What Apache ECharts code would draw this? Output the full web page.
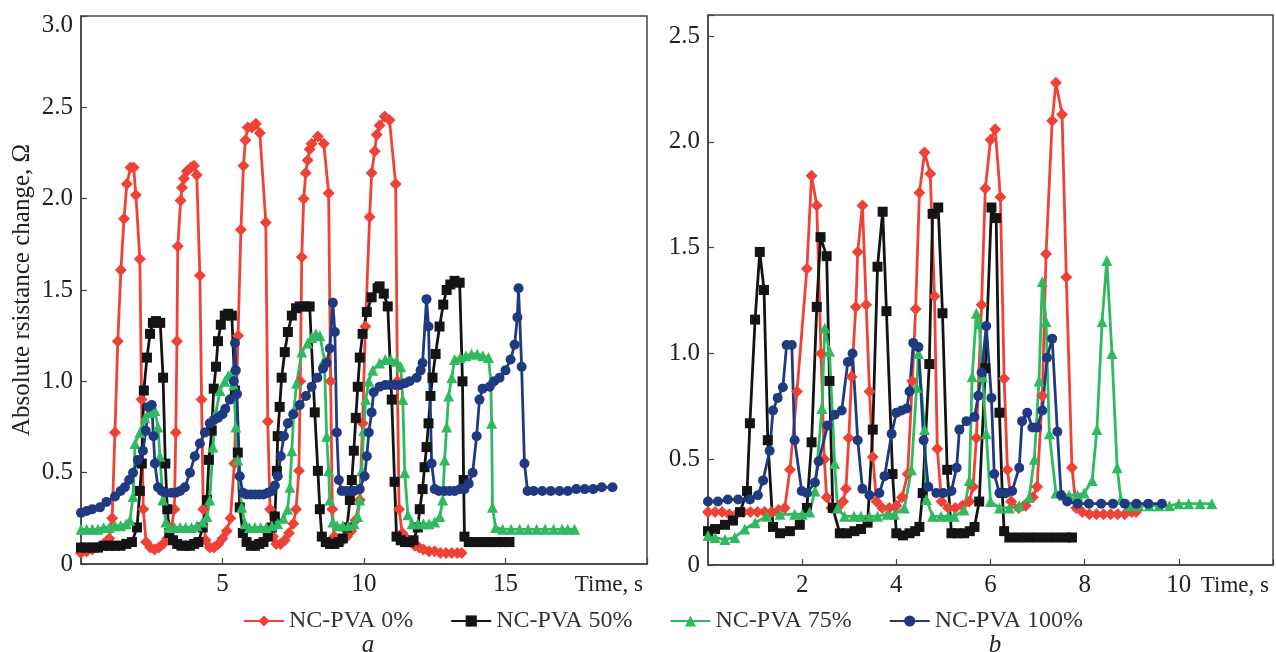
<!DOCTYPE html>
<html>
<head>
<meta charset="utf-8">
<script src="https://cdn.jsdelivr.net/npm/echarts@6/dist/echarts.min.js"></script>
<style>
  html, body { margin: 0; padding: 0; background: #fff; }
  #main { width: 1276px; height: 652px; }
</style>
</head>
<body>
<div id="main"></div>
<script>
var seriesNames = ['NC-PVA 0%', 'NC-PVA 50%', 'NC-PVA 75%', 'NC-PVA 100%'];
var yTicksA = [0, 0.5, 1.0, 1.5, 2.0, 2.5, 3.0];
var yTicksB = [0, 0.5, 1.0, 1.5, 2.0, 2.5];
var xTicksA = [5, 10, 15];
var xTicksB = [2, 4, 6, 8, 10];

// panel a : [time s, resistance change]
var a0 = [[0,0.06],[0.2,0.07],[0.4,0.08],[0.6,0.09],[0.8,0.11],[1.0,0.14],[1.1,0.25],[1.2,0.72],[1.3,1.22],[1.41,1.61],[1.52,1.89],[1.62,2.08],[1.75,2.17],[1.86,2.17],[1.94,2.02],[2.08,1.67],[2.14,0.9],[2.2,0.3],[2.3,0.12],[2.45,0.09],[2.6,0.08],[2.75,0.09],[2.9,0.11],[3.05,0.14],[3.2,0.2],[3.3,0.3],[3.35,0.72],[3.39,1.22],[3.42,1.74],[3.52,1.99],[3.57,2.06],[3.64,2.11],[3.74,2.15],[3.88,2.17],[3.99,2.18],[4.09,2.13],[4.2,1.58],[4.26,0.9],[4.32,0.3],[4.4,0.13],[4.55,0.09],[4.7,0.09],[4.85,0.11],[5.0,0.14],[5.15,0.18],[5.28,0.25],[5.42,0.55],[5.55,1.25],[5.65,1.83],[5.74,2.18],[5.81,2.32],[5.89,2.39],[6.04,2.39],[6.18,2.41],[6.32,2.36],[6.53,1.87],[6.6,0.78],[6.68,0.3],[6.78,0.15],[6.9,0.11],[7.05,0.11],[7.2,0.13],[7.35,0.17],[7.5,0.22],[7.6,0.3],[7.7,0.51],[7.75,1.0],[7.8,1.68],[7.87,2.0],[7.94,2.14],[8.01,2.21],[8.08,2.27],[8.15,2.3],[8.37,2.34],[8.58,2.3],[8.75,2.03],[8.82,1.0],[8.88,0.3],[8.95,0.15],[9.1,0.13],[9.25,0.13],[9.4,0.15],[9.55,0.18],[9.7,0.24],[9.85,0.35],[9.95,0.77],[10.05,1.3],[10.2,1.9],[10.27,2.14],[10.38,2.26],[10.45,2.35],[10.55,2.4],[10.73,2.45],[10.9,2.43],[11.12,2.08],[11.18,1.0],[11.24,0.3],[11.35,0.17],[11.5,0.14],[11.65,0.12],[11.8,0.1],[11.95,0.09],[12.1,0.08],[12.3,0.07],[12.5,0.07],[12.7,0.06],[12.9,0.06],[13.1,0.06],[13.3,0.06],[13.45,0.06]];
var a50 = [[0,0.09],[0.2,0.09],[0.4,0.09],[0.6,0.09],[0.8,0.1],[1.0,0.1],[1.2,0.1],[1.4,0.1],[1.6,0.11],[1.8,0.12],[1.98,0.2],[2.08,0.4],[2.15,0.55],[2.22,0.95],[2.33,1.13],[2.44,1.26],[2.54,1.32],[2.65,1.33],[2.8,1.32],[2.9,1.02],[2.98,0.55],[3.05,0.3],[3.12,0.17],[3.25,0.13],[3.4,0.11],[3.55,0.1],[3.7,0.1],[3.85,0.1],[4.0,0.11],[4.15,0.12],[4.3,0.2],[4.45,0.35],[4.52,0.57],[4.62,0.73],[4.69,0.96],[4.77,1.08],[4.84,1.22],[4.94,1.31],[5.08,1.36],[5.2,1.37],[5.33,1.36],[5.44,0.95],[5.54,0.61],[5.61,0.31],[5.72,0.17],[5.85,0.12],[6.0,0.1],[6.15,0.1],[6.3,0.11],[6.45,0.12],[6.6,0.15],[6.75,0.2],[6.85,0.26],[6.92,0.51],[6.95,0.7],[7.02,0.86],[7.09,1.02],[7.2,1.16],[7.31,1.27],[7.45,1.36],[7.6,1.4],[7.73,1.41],[7.9,1.41],[8.08,1.41],[8.26,0.83],[8.37,0.51],[8.44,0.3],[8.51,0.15],[8.65,0.12],[8.8,0.11],[8.95,0.11],[9.1,0.12],[9.25,0.14],[9.4,0.2],[9.5,0.35],[9.57,0.46],[9.64,0.62],[9.71,0.8],[9.78,0.97],[9.85,1.13],[9.95,1.26],[10.1,1.38],[10.27,1.46],[10.48,1.51],[10.55,1.52],[10.7,1.48],[10.84,1.41],[10.98,0.9],[11.08,0.45],[11.15,0.15],[11.3,0.13],[11.45,0.12],[11.6,0.12],[11.75,0.13],[11.9,0.2],[11.97,0.3],[12.07,0.41],[12.14,0.53],[12.21,0.64],[12.28,0.77],[12.35,0.92],[12.42,1.02],[12.53,1.15],[12.67,1.3],[12.8,1.42],[12.92,1.5],[13.05,1.53],[13.2,1.55],[13.38,1.54],[13.48,1.0],[13.52,0.46],[13.55,0.15],[13.7,0.12],[13.9,0.12],[14.1,0.12],[14.3,0.12],[14.5,0.12],[14.7,0.12],[14.9,0.12],[15.14,0.12]];
var a75 = [[0,0.19],[0.2,0.19],[0.4,0.19],[0.6,0.19],[0.8,0.2],[1.0,0.2],[1.2,0.21],[1.4,0.21],[1.6,0.22],[1.73,0.24],[1.84,0.37],[1.91,0.66],[2.08,0.72],[2.26,0.8],[2.44,0.83],[2.61,0.84],[2.72,0.75],[2.79,0.59],[2.89,0.35],[3.0,0.23],[3.1,0.2],[3.3,0.2],[3.5,0.2],[3.7,0.2],[3.9,0.2],[4.1,0.21],[4.3,0.23],[4.45,0.26],[4.55,0.35],[4.66,0.64],[4.77,0.83],[4.91,0.95],[5.08,1.0],[5.2,1.03],[5.33,1.05],[5.4,0.98],[5.47,0.75],[5.54,0.57],[5.68,0.31],[5.8,0.22],[5.95,0.2],[6.15,0.2],[6.35,0.2],[6.55,0.2],[6.75,0.21],[6.95,0.22],[7.15,0.25],[7.3,0.3],[7.38,0.42],[7.45,0.62],[7.52,0.84],[7.62,0.99],[7.8,1.16],[8.01,1.21],[8.15,1.24],[8.3,1.26],[8.44,1.25],[8.6,1.12],[8.68,0.7],[8.75,0.51],[8.79,0.35],[8.9,0.23],[9.05,0.21],[9.25,0.21],[9.45,0.21],[9.65,0.22],[9.78,0.26],[9.85,0.35],[9.92,0.51],[9.99,0.73],[10.06,0.9],[10.17,1.0],[10.31,1.06],[10.55,1.1],[10.75,1.12],[10.95,1.12],[11.15,1.11],[11.3,1.08],[11.37,0.9],[11.44,0.5],[11.55,0.27],[11.7,0.22],[11.9,0.22],[12.1,0.22],[12.3,0.22],[12.5,0.23],[12.68,0.26],[12.78,0.35],[12.85,0.57],[12.92,0.75],[12.99,0.92],[13.1,1.02],[13.2,1.12],[13.4,1.13],[13.6,1.14],[13.8,1.15],[14.0,1.15],[14.2,1.14],[14.4,1.13],[14.48,1.0],[14.51,0.77],[14.54,0.31],[14.65,0.2],[14.9,0.19],[15.2,0.19],[15.5,0.19],[15.8,0.19],[16.1,0.19],[16.4,0.19],[16.7,0.19],[17.0,0.19],[17.2,0.19],[17.44,0.19]];
var a100 = [[0,0.28],[0.2,0.29],[0.4,0.3],[0.67,0.31],[0.9,0.34],[1.2,0.37],[1.4,0.4],[1.55,0.42],[1.7,0.46],[1.84,0.5],[2.01,0.57],[2.19,0.62],[2.29,0.73],[2.38,0.86],[2.5,0.87],[2.56,0.7],[2.61,0.55],[2.72,0.42],[2.85,0.4],[3.0,0.39],[3.2,0.39],[3.35,0.39],[3.5,0.4],[3.67,0.42],[3.85,0.5],[4.02,0.59],[4.2,0.66],[4.38,0.72],[4.55,0.77],[4.7,0.79],[4.84,0.8],[5.0,0.82],[5.1,0.85],[5.26,0.9],[5.4,1.0],[5.44,1.21],[5.47,1.06],[5.51,0.93],[5.61,0.48],[5.72,0.39],[5.85,0.38],[6.0,0.38],[6.15,0.38],[6.3,0.38],[6.45,0.38],[6.6,0.39],[6.75,0.4],[6.85,0.43],[6.95,0.48],[7.06,0.59],[7.17,0.7],[7.31,0.77],[7.5,0.82],[7.73,0.87],[7.95,0.92],[8.15,0.97],[8.35,1.02],[8.55,1.07],[8.68,1.1],[8.79,1.18],[8.9,1.43],[8.97,1.27],[9.04,0.72],[9.11,0.46],[9.21,0.4],[9.35,0.4],[9.5,0.4],[9.65,0.4],[9.85,0.41],[10.02,0.48],[10.1,0.59],[10.17,0.72],[10.27,0.83],[10.34,0.94],[10.55,0.97],[10.75,0.98],[10.91,0.98],[11.1,0.98],[11.26,0.98],[11.45,0.99],[11.61,1.0],[11.86,1.02],[12.0,1.06],[12.07,1.1],[12.21,1.45],[12.28,1.3],[12.39,0.55],[12.5,0.41],[12.65,0.4],[12.85,0.4],[13.02,0.4],[13.2,0.4],[13.4,0.41],[13.55,0.41],[13.7,0.44],[13.84,0.5],[13.98,0.7],[14.08,0.9],[14.19,0.96],[14.44,0.97],[14.6,1.0],[14.79,1.02],[15.0,1.06],[15.18,1.12],[15.32,1.2],[15.42,1.35],[15.46,1.51],[15.57,1.08],[15.67,0.55],[15.78,0.4],[16.0,0.4],[16.3,0.4],[16.6,0.4],[16.91,0.4],[17.2,0.4],[17.5,0.41],[17.8,0.41],[18.1,0.41],[18.4,0.42],[18.78,0.42]];

// panel b
var b0 = [[0,0.25],[0.15,0.25],[0.3,0.25],[0.45,0.24],[0.6,0.24],[0.75,0.25],[0.9,0.25],[1.05,0.25],[1.2,0.25],[1.35,0.25],[1.5,0.26],[1.63,0.27],[1.74,0.45],[1.89,0.82],[2.1,1.4],[2.2,1.84],[2.31,1.7],[2.4,1.0],[2.47,0.5],[2.52,0.32],[2.62,0.27],[2.75,0.27],[2.87,0.3],[2.93,0.36],[2.99,0.6],[3.05,0.89],[3.14,1.22],[3.18,1.48],[3.28,1.7],[3.36,1.23],[3.43,0.82],[3.5,0.51],[3.58,0.3],[3.7,0.27],[3.85,0.27],[4.0,0.28],[4.12,0.32],[4.24,0.43],[4.34,0.87],[4.41,1.21],[4.49,1.76],[4.6,1.95],[4.72,1.85],[4.81,1.27],[4.87,0.55],[4.96,0.3],[5.1,0.27],[5.25,0.27],[5.4,0.28],[5.55,0.3],[5.63,0.37],[5.7,0.6],[5.81,1.23],[5.89,1.78],[6.0,2.01],[6.1,2.06],[6.21,1.74],[6.29,0.88],[6.36,0.45],[6.44,0.3],[6.6,0.27],[6.75,0.28],[6.9,0.32],[6.99,0.37],[7.1,0.8],[7.18,1.47],[7.31,2.1],[7.39,2.28],[7.52,2.13],[7.61,1.36],[7.73,0.46],[7.82,0.27],[7.95,0.25],[8.1,0.24],[8.25,0.24],[8.4,0.24],[8.55,0.24],[8.7,0.24],[8.85,0.24],[9.0,0.25],[9.09,0.25]];
var b50 = [[0,0.16],[0.15,0.17],[0.36,0.19],[0.53,0.21],[0.68,0.25],[0.83,0.35],[0.89,0.67],[1.0,1.16],[1.1,1.48],[1.19,1.3],[1.27,0.59],[1.38,0.18],[1.53,0.15],[1.74,0.16],[1.95,0.19],[2.1,0.27],[2.2,0.58],[2.31,1.22],[2.39,1.55],[2.52,1.46],[2.58,0.87],[2.65,0.27],[2.8,0.15],[2.95,0.15],[3.11,0.16],[3.25,0.17],[3.39,0.2],[3.5,0.64],[3.6,1.41],[3.71,1.67],[3.79,1.2],[3.92,0.43],[4.0,0.15],[4.14,0.14],[4.28,0.15],[4.4,0.16],[4.49,0.18],[4.56,0.34],[4.7,0.95],[4.77,1.66],[4.89,1.69],[4.98,1.19],[5.08,0.45],[5.17,0.15],[5.3,0.15],[5.44,0.15],[5.56,0.16],[5.66,0.18],[5.76,0.3],[5.89,0.93],[6.02,1.69],[6.12,1.64],[6.19,0.72],[6.25,0.34],[6.29,0.16],[6.4,0.13],[6.6,0.13],[6.8,0.13],[7.0,0.13],[7.2,0.13],[7.4,0.13],[7.6,0.13],[7.73,0.13]];
var b75 = [[0,0.14],[0.15,0.13],[0.36,0.12],[0.57,0.13],[0.78,0.17],[1.0,0.2],[1.25,0.23],[1.53,0.24],[1.84,0.24],[2.0,0.24],[2.16,0.25],[2.27,0.35],[2.42,0.74],[2.48,1.12],[2.58,1.01],[2.69,0.48],[2.75,0.27],[2.9,0.23],[3.1,0.23],[3.25,0.23],[3.43,0.23],[3.6,0.23],[3.8,0.24],[3.96,0.24],[4.17,0.27],[4.32,0.45],[4.43,0.84],[4.47,1.0],[4.6,0.64],[4.64,0.31],[4.77,0.23],[4.95,0.23],[5.1,0.23],[5.23,0.23],[5.44,0.26],[5.55,0.4],[5.61,0.89],[5.7,1.19],[5.76,1.14],[5.83,0.89],[5.91,0.62],[6.0,0.3],[6.19,0.27],[6.4,0.27],[6.61,0.28],[6.82,0.32],[6.93,0.5],[7.03,0.87],[7.1,1.34],[7.18,1.15],[7.25,0.62],[7.39,0.34],[7.55,0.33],[7.67,0.33],[7.85,0.33],[7.99,0.34],[8.16,0.4],[8.26,0.64],[8.37,1.15],[8.47,1.44],[8.58,1.0],[8.69,0.46],[8.77,0.31],[8.94,0.28],[9.15,0.28],[9.37,0.28],[9.58,0.28],[9.8,0.28],[10.0,0.29],[10.21,0.29],[10.45,0.29],[10.7,0.29]];
var b100 = [[0,0.3],[0.21,0.3],[0.42,0.31],[0.64,0.31],[0.89,0.31],[1.06,0.33],[1.17,0.4],[1.31,0.54],[1.38,0.73],[1.48,0.79],[1.59,0.84],[1.67,1.04],[1.78,1.04],[1.84,0.59],[1.99,0.35],[2.1,0.34],[2.27,0.39],[2.35,0.49],[2.54,0.66],[2.69,0.71],[2.84,0.73],[2.97,0.96],[3.07,1.0],[3.18,0.59],[3.28,0.36],[3.43,0.33],[3.64,0.34],[3.75,0.42],[3.9,0.62],[4.0,0.72],[4.11,0.73],[4.22,0.74],[4.28,0.82],[4.36,1.05],[4.47,1.03],[4.58,0.59],[4.68,0.37],[4.85,0.34],[5.0,0.34],[5.17,0.35],[5.28,0.46],[5.34,0.64],[5.49,0.68],[5.66,0.7],[5.74,0.8],[5.81,0.91],[5.91,1.13],[6.02,0.79],[6.08,0.43],[6.19,0.34],[6.32,0.34],[6.46,0.35],[6.61,0.46],[6.67,0.68],[6.78,0.72],[6.89,0.65],[6.99,0.65],[7.1,0.73],[7.2,0.98],[7.31,1.07],[7.42,0.63],[7.5,0.33],[7.63,0.3],[7.85,0.29],[8.09,0.29],[8.35,0.29],[8.6,0.29],[8.85,0.29],[9.1,0.29],[9.35,0.29],[9.64,0.29]];

var colors = ['#ef4237', '#141414', '#2fba5f', '#1f3a80'];
var symbols = ['diamond', 'rect', 'triangle', 'circle'];
var symbolSizes = [12, 10, 11, 10];
var serif = 'Liberation Serif';

var myChart = echarts.init(document.getElementById('main'));

function makeSeries(i, data, axisIndex) {
    return {
        name: seriesNames[i],
        type: 'line',
        xAxisIndex: axisIndex,
        yAxisIndex: axisIndex,
        data: data,
        symbol: symbols[i],
        symbolSize: symbolSizes[i],
        showAllSymbol: true,
        lineStyle: { color: colors[i], width: 2.8 },
        itemStyle: { color: colors[i] },
        emphasis: { disabled: true },
        animation: false
    };
}

function xAxisOf(idx, max, ticks) {
    return {
        gridIndex: idx,
        type: 'value',
        min: 0,
        max: max,
        interval: ticks[1] - ticks[0],
        name: 'Time, s',
        nameLocation: 'end',
        nameGap: -4,
        nameTextStyle: { fontFamily: serif, fontSize: 23, color: '#222', align: 'right', verticalAlign: 'top', padding: [9, 0, 0, 0] },
        axisLine: { show: true, lineStyle: { color: '#444', width: 1.5 } },
        axisTick: { inside: true, length: 6, lineStyle: { color: '#444', width: 1.2 } },
        axisLabel: {
            margin: 8,
            fontFamily: serif, fontSize: 25, color: '#222',
            formatter: function (v) { return ticks.indexOf(v) >= 0 ? String(v) : ''; }
        },
        splitLine: { show: false }
    };
}

function yAxisOf(idx, max, ticks, name) {
    return {
        gridIndex: idx,
        type: 'value',
        min: 0,
        max: max,
        interval: 0.5,
        name: name,
        nameLocation: 'middle',
        nameGap: 46,
        nameTextStyle: { fontFamily: serif, fontSize: 25, color: '#222' },
        axisLine: { show: true, lineStyle: { color: '#444', width: 1.5 } },
        axisTick: { inside: true, length: 6, lineStyle: { color: '#444', width: 1.2 } },
        axisLabel: {
            margin: 8,
            fontFamily: serif, fontSize: 25, color: '#222',
            formatter: function (v) {
                var hit = ticks.filter(function (t) { return Math.abs(t - v) < 1e-6; });
                if (!hit.length) return '';
                if (v === max) return '{top|' + v.toFixed(1) + '}';
                return v === 0 ? '0' : v.toFixed(1);
            },
            rich: { top: { fontFamily: serif, fontSize: 25, color: '#222', padding: [18, 0, 0, 0] } }
        },
        splitLine: { show: false }
    };
}

option = {
    backgroundColor: '#fff',
    animation: false,
    title: [
        { text: 'a', left: 363, top: 628, textAlign: 'center', textStyle: { fontFamily: serif, fontStyle: 'italic', fontWeight: 'normal', fontSize: 25, color: '#222' } },
        { text: 'b', left: 990, top: 628, textAlign: 'center', textStyle: { fontFamily: serif, fontStyle: 'italic', fontWeight: 'normal', fontSize: 25, color: '#222' } }
    ],
    legend: {
        data: seriesNames,
        left: 238,
        top: 604,
        itemGap: 37,
        itemWidth: 40,
        itemHeight: 14,
        textStyle: { fontFamily: serif, fontSize: 24, color: '#333' }
    },
    grid: [
        { left: 81, top: 16, width: 566, height: 548, show: true, borderColor: '#444', borderWidth: 1.5 },
        { left: 708, top: 15, width: 565, height: 550, show: true, borderColor: '#444', borderWidth: 1.5 }
    ],
    xAxis: [xAxisOf(0, 20, xTicksA), xAxisOf(1, 12, xTicksB)],
    yAxis: [yAxisOf(0, 3, yTicksA, 'Absolute rsistance change, Ω'), yAxisOf(1, 2.6, yTicksB, '')],
    series: [
        makeSeries(0, a0, 0), makeSeries(1, a50, 0), makeSeries(2, a75, 0), makeSeries(3, a100, 0),
        makeSeries(0, b0, 1), makeSeries(1, b50, 1), makeSeries(2, b75, 1), makeSeries(3, b100, 1)
    ]
};

myChart.setOption(option);
</script>
</body>
</html>
